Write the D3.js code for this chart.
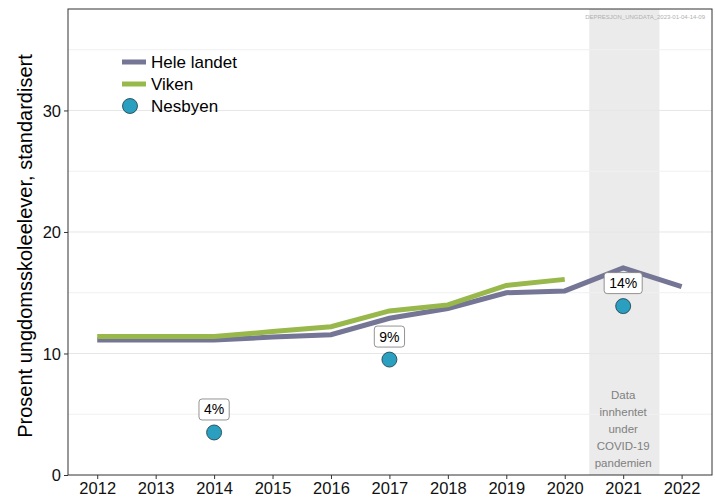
<!DOCTYPE html>
<meta charset="utf-8">
<head>
	<script src="https://cdn.jsdelivr.net/npm/d3@7"></script>
	<style>
		body { margin: 0; background: #fff; }
		text { font-family: "Liberation Sans", Arial, sans-serif; }
		.tick text { font-size: 16.5px; fill: #111; }
	</style>
</head>
<body>
	<svg id="svg"></svg>
</body>
<script>
	var years = [2012, 2013, 2014, 2015, 2016, 2017, 2018, 2019, 2020, 2021, 2022];
	var heleLandet = [11.1, 11.1, 11.1, 11.35, 11.55, 12.9, 13.7, 15.0, 15.15, 17.05, 15.5];
	var vikenYears = [2012, 2013, 2014, 2015, 2016, 2017, 2018, 2019, 2020];
	var viken = [11.4, 11.4, 11.4, 11.8, 12.2, 13.5, 14.0, 15.6, 16.1];
	var nesbyenYears = [2014, 2017, 2021];
	var nesbyen = [3.5, 9.5, 13.9];
	var nesbyenLabels = ["4%", "9%", "14%"];
	var yTicks = [0, 10, 20, 30];
	var covidSpan = [2020.42, 2021.62];

	var width = 715, height = 500;
	var margin = { left: 68, right: 3, top: 9, bottom: 25 };

	var svg = d3.select("#svg")
		.attr("width", width)
		.attr("height", height);

	var x = d3.scaleLinear().domain([2011.5, 2022.52]).range([margin.left, width - margin.right]);
	var y = d3.scaleLinear().domain([0, 38.35]).range([height - margin.bottom, margin.top]);

	// covid shading
	svg.append("rect")
		.attr("x", x(covidSpan[0]))
		.attr("y", margin.top)
		.attr("width", x(covidSpan[1]) - x(covidSpan[0]))
		.attr("height", y(0) - margin.top)
		.attr("fill", "#ebebeb");

	// grid
	svg.append("g").selectAll("line")
		.data([5, 10, 15, 20, 25, 30, 35])
		.enter().append("line")
		.attr("x1", margin.left).attr("x2", width - margin.right)
		.attr("y1", d => y(d)).attr("y2", d => y(d))
		.attr("stroke", d => d % 10 == 0 ? "#e6e6e6" : "#f0f0f0")
		.attr("stroke-width", 1);

	var covidText = ["Data", "innhentet", "under", "COVID-19", "pandemien"];
	svg.append("g").selectAll("text")
		.data(covidText)
		.enter().append("text")
		.attr("x", x(2021))
		.attr("y", (d, i) => 399 + i * 17)
		.attr("text-anchor", "middle")
		.attr("font-size", "11.5px")
		.attr("fill", "#808080")
		.text(d => d);

	// lines
	var line = d3.line().x(d => x(d[0])).y(d => y(d[1]));
	svg.append("path")
		.attr("d", line(years.map((yr, i) => [yr, heleLandet[i]])))
		.attr("fill", "none")
		.attr("stroke", "#757595")
		.attr("stroke-width", 5);
	svg.append("path")
		.attr("d", line(vikenYears.map((yr, i) => [yr, viken[i]])))
		.attr("fill", "none")
		.attr("stroke", "#98b84b")
		.attr("stroke-width", 5);

	// points
	svg.append("g").selectAll("circle")
		.data(nesbyenYears)
		.enter().append("circle")
		.attr("cx", d => x(d))
		.attr("cy", (d, i) => y(nesbyen[i]))
		.attr("r", 7.5)
		.attr("fill", "#2b9fc0")
		.attr("stroke", "#1b3a44")
		.attr("stroke-width", 0.8);

	// labels
	var lab = svg.append("g").selectAll("g")
		.data(nesbyenYears)
		.enter().append("g")
		.attr("transform", (d, i) => "translate(" + x(d) + "," + (y(nesbyen[i]) - 23) + ")");
	var labText = lab.append("text")
		.attr("text-anchor", "middle")
		.attr("y", 5)
		.attr("font-size", "14px")
		.text((d, i) => nesbyenLabels[i]);
	lab.insert("rect", "text")
		.each(function () {
			var w = this.parentNode.querySelector("text").getComputedTextLength();
			d3.select(this)
				.attr("x", -w / 2 - 5)
				.attr("width", w + 10);
		})
		.attr("y", -10.5)
		.attr("height", 21)
		.attr("rx", 3)
		.attr("fill", "#fff")
		.attr("stroke", "#777")
		.attr("stroke-width", 0.8);

	// axes
	svg.append("g")
		.attr("transform", "translate(0," + y(0) + ")")
		.call(d3.axisBottom(x).tickValues(years).tickFormat(d3.format("d")).tickSize(4).tickPadding(3))
		.call(g => g.select(".domain").remove())
		.call(g => g.selectAll(".tick line").attr("stroke", "#333"));
	svg.append("g")
		.attr("transform", "translate(" + margin.left + ",0)")
		.call(d3.axisLeft(y).tickValues(yTicks).tickSize(4).tickPadding(3))
		.call(g => g.select(".domain").remove())
		.call(g => g.selectAll(".tick line").attr("stroke", "#333"))
		.call(g => g.selectAll(".tick text").attr("dy", "0.35em"));

	// panel border
	svg.append("rect")
		.attr("x", margin.left)
		.attr("y", margin.top)
		.attr("width", width - margin.right - margin.left)
		.attr("height", y(0) - margin.top)
		.attr("fill", "none")
		.attr("stroke", "#333")
		.attr("stroke-width", 1);

	svg.append("text")
		.attr("transform", "translate(32," + ((margin.top + y(0)) / 2 + 4) + ") rotate(-90)")
		.attr("text-anchor", "middle")
		.attr("font-size", "20px")
		.text("Prosent ungdomsskoleelever, standardisert");

	svg.append("text")
		.attr("x", 705)
		.attr("y", 19)
		.attr("text-anchor", "end")
		.attr("font-size", "6px")
		.attr("fill", "#b0b0b0")
		.text("DEPRESJON_UNGDATA_2023-01-04-14-09");

	// legend
	var legend = [
		{ name: "Hele landet", color: "#757595", type: "line" },
		{ name: "Viken", color: "#98b84b", type: "line" },
		{ name: "Nesbyen", color: "#2b9fc0", type: "point" }
	];
	var lg = svg.append("g").selectAll("g")
		.data(legend)
		.enter().append("g")
		.attr("transform", (d, i) => "translate(122," + (62 + i * 22) + ")");
	lg.filter(d => d.type == "line").append("line")
		.attr("x1", 0).attr("x2", 24)
		.attr("stroke", d => d.color)
		.attr("stroke-width", 5);
	lg.filter(d => d.type == "point").append("circle")
		.attr("cx", 8).attr("r", 7.5)
		.attr("fill", d => d.color)
		.attr("stroke", "#1b3a44")
		.attr("stroke-width", 0.8);
	lg.append("text")
		.attr("x", 29)
		.attr("y", 6)
		.attr("font-size", "17px")
		.text(d => d.name);
</script>
